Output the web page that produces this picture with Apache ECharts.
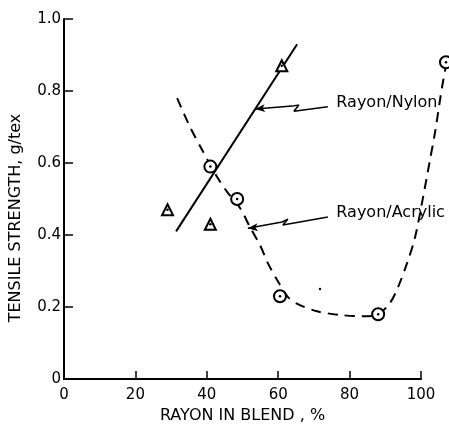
<!DOCTYPE html>
<html>
<head>
<meta charset="utf-8">
<script src="https://cdn.jsdelivr.net/npm/echarts@6/dist/echarts.min.js"></script>
<style>
  html, body { margin: 0; padding: 0; background: #fff; }
  #chart { width: 449px; height: 438px; }
</style>
</head>
<body>
<div id="chart"></div>
<script>
// Measured blends: rayon content (%) and tensile strength (g/tex)
const nylonPct = [29, 41, 61];
const nylonStrength = [0.47, 0.43, 0.87];

const acrylicPct = [41, 48.5, 60.5, 88, 107];
const acrylicStrength = [0.59, 0.50, 0.23, 0.18, 0.88];

// Fitted straight line for rayon/nylon
const nylonFitPct = [31.4, 65.3];
const nylonFitStrength = [0.41, 0.93];

// Hand-drawn trend curve for rayon/acrylic
const acrylicCurvePct = [31.7, 35.3, 38.7, 42.9, 45.9, 49.3, 52.1, 54.9, 57.1, 59.7, 62.7, 65.5, 70.9, 77.3, 83.8, 87.7, 91.3, 93.6, 96.1, 98.3, 100.6, 102.5, 103.9, 105.9, 107.3];
const acrylicCurveStrength = [0.78, 0.70, 0.636, 0.561, 0.517, 0.475, 0.422, 0.372, 0.322, 0.275, 0.228, 0.208, 0.188, 0.178, 0.174, 0.178, 0.211, 0.256, 0.322, 0.392, 0.506, 0.608, 0.683, 0.811, 0.886];

// Leader lines (arrow tip first) running to the series labels
const nylonLeaderPct = [53.5, 63.9, 65.8, 64.4, 73.9];
const nylonLeaderStrength = [0.75, 0.758, 0.761, 0.744, 0.756];
const acrylicLeaderPct = [51.5, 61.1, 62.7, 61.3, 73.9];
const acrylicLeaderStrength = [0.419, 0.436, 0.444, 0.428, 0.45];

const seriesNames = ['Rayon/Nylon', 'Rayon/Acrylic'];

// Stray speck on the plot
const speckPct = [71.7];
const speckStrength = [0.25];

const xTicks = [0, 20, 40, 60, 80, 100];
const xAxisTitle = 'RAYON IN BLEND , %';
const yAxisTitle = 'TENSILE STRENGTH, g/tex';

const zip = (a, b) => a.map((v, i) => [v, b[i]]);

const FONT = 'DejaVu Sans';
const W = 449, H = 438;
const GRID_LEFT = 64, GRID_RIGHT = 28, GRID_TOP = 19, GRID_BOTTOM = 59;
// The drawn x axis stops at 100 %, but the acrylic curve runs past it;
// marks live on a second, axis-less grid that shares the same scale and
// reaches the right edge of the canvas.
const X_MAX_FULL = 100 * (W - GRID_LEFT) / (W - GRID_LEFT - GRID_RIGHT);

function leader(xs, ys) {
  return {
    type: 'line',
    xAxisIndex: 1, yAxisIndex: 1,
    data: zip(xs, ys).map((p, i) => i === 0
      ? { value: p, symbol: 'arrow', symbolSize: [6, 10], symbolRotate: 95 }
      : { value: p }),
    symbol: 'none',
    showSymbol: true,
    itemStyle: { color: '#000', opacity: 1 },
    lineStyle: { color: '#000', width: 1.5 },
    z: 3
  };
}

const chart = echarts.init(document.getElementById('chart'), null, { renderer: 'canvas' });

chart.setOption({
  animation: false,
  backgroundColor: '#fff',
  grid: [
    { left: GRID_LEFT, right: GRID_RIGHT, top: GRID_TOP, bottom: GRID_BOTTOM },
    { left: GRID_LEFT, right: 0, top: GRID_TOP, bottom: GRID_BOTTOM }
  ],
  xAxis: [
    {
      type: 'value', gridIndex: 0,
      min: 0, max: 100, interval: 20,
      name: xAxisTitle,
      nameLocation: 'middle',
      nameGap: 28,
      nameTextStyle: { color: '#000', fontFamily: FONT, fontSize: 16 },
      axisLine: { show: true, lineStyle: { color: '#000', width: 2 } },
      axisTick: { show: true, inside: true, length: 8, lineStyle: { color: '#000', width: 1.5 } },
      axisLabel: {
        color: '#000', fontFamily: FONT, fontSize: 15, margin: 9,
        formatter: v => xTicks.includes(v) ? String(v) : ''
      },
      splitLine: { show: false }
    },
    { type: 'value', gridIndex: 1, min: 0, max: X_MAX_FULL, show: false }
  ],
  yAxis: [
    {
      type: 'value', gridIndex: 0,
      min: 0, max: 1.0, interval: 0.2,
      name: yAxisTitle,
      nameLocation: 'middle',
      nameGap: 40,
      nameTextStyle: { color: '#000', fontFamily: FONT, fontSize: 16, padding: [0, 38, 0, 0] },
      axisLine: { show: true, lineStyle: { color: '#000', width: 2 } },
      axisTick: { show: true, inside: true, length: 9, lineStyle: { color: '#000', width: 1.5 } },
      axisLabel: {
        color: '#000', fontFamily: FONT, fontSize: 15, margin: 3,
        formatter: v => v === 0 ? '0' : v.toFixed(1)
      },
      splitLine: { show: false }
    },
    { type: 'value', gridIndex: 1, min: 0, max: 1.0, show: false }
  ],
  series: [
    {
      name: seriesNames[0] + ' fit',
      type: 'line',
      xAxisIndex: 1, yAxisIndex: 1,
      data: zip(nylonFitPct, nylonFitStrength),
      showSymbol: false,
      lineStyle: { color: '#000', width: 2 },
      z: 2
    },
    {
      name: seriesNames[1] + ' trend',
      type: 'line',
      xAxisIndex: 1, yAxisIndex: 1,
      data: zip(acrylicCurvePct, acrylicCurveStrength),
      smooth: 0.3,
      showSymbol: false,
      lineStyle: { color: '#000', width: 2, type: [10, 7] },
      z: 2
    },
    leader(nylonLeaderPct, nylonLeaderStrength),
    leader(acrylicLeaderPct, acrylicLeaderStrength),
    {
      name: 'labels',
      type: 'scatter',
      xAxisIndex: 1, yAxisIndex: 1,
      data: [
        [nylonLeaderPct[nylonLeaderPct.length - 1], nylonLeaderStrength[nylonLeaderStrength.length - 1], seriesNames[0]],
        [acrylicLeaderPct[acrylicLeaderPct.length - 1], acrylicLeaderStrength[acrylicLeaderStrength.length - 1], seriesNames[1]]
      ],
      symbol: 'circle',
      symbolSize: 1,
      itemStyle: { color: 'rgba(255,255,255,0)', opacity: 1 },
      label: {
        show: true, position: 'right', distance: 8, offset: [0, -4],
        formatter: p => p.value[2],
        color: '#000', opacity: 1, fontFamily: FONT, fontSize: 16
      },
      z: 3
    },
    {
      name: seriesNames[0],
      type: 'scatter',
      xAxisIndex: 1, yAxisIndex: 1,
      data: zip(nylonPct, nylonStrength),
      symbol: 'triangle',
      symbolSize: 11,
      itemStyle: { color: '#fff', borderColor: '#000', borderWidth: 2, opacity: 1 },
      clip: false,
      z: 4
    },
    {
      name: seriesNames[1],
      type: 'scatter',
      xAxisIndex: 1, yAxisIndex: 1,
      data: zip(acrylicPct, acrylicStrength),
      symbol: 'circle',
      symbolSize: 12,
      itemStyle: { color: '#fff', borderColor: '#000', borderWidth: 2, opacity: 1 },
      clip: false,
      z: 4
    },
    {
      name: 'centres',
      type: 'scatter',
      xAxisIndex: 1, yAxisIndex: 1,
      data: zip(nylonPct.concat(acrylicPct), nylonStrength.concat(acrylicStrength)),
      symbol: 'circle',
      symbolSize: 2.5,
      itemStyle: { color: '#000', opacity: 1 },
      clip: false,
      z: 5
    },
    {
      name: 'speck',
      type: 'scatter',
      xAxisIndex: 1, yAxisIndex: 1,
      data: zip(speckPct, speckStrength),
      symbol: 'circle',
      symbolSize: 2.5,
      itemStyle: { color: '#000', opacity: 1 },
      z: 5
    }
  ]
});
</script>
</body>
</html>
